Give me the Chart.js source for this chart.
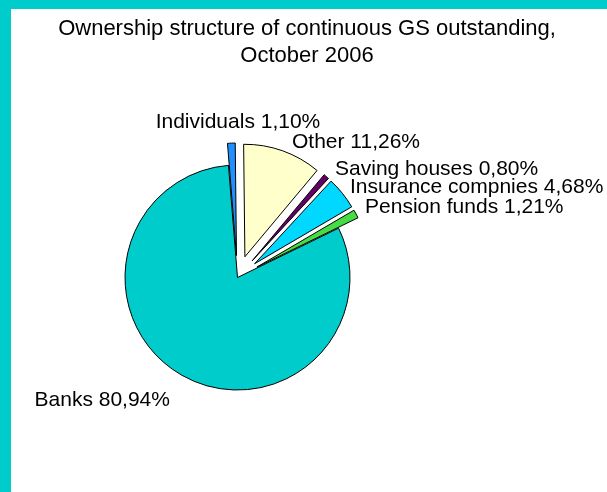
<!DOCTYPE html>
<html>
<head>
<meta charset="utf-8">
<script src="https://cdn.jsdelivr.net/npm/chart.js@4.4.1/dist/chart.umd.min.js"></script>
<style>
  html, body { margin: 0; padding: 0; }
  body { width: 607px; height: 492px; background: #00cccc; overflow: hidden; position: relative; }
  #frame { position: absolute; left: 11px; top: 9px; width: 596px; height: 483px; background: #fff; }
  canvas { display: block; }
</style>
</head>
<body>
<div id="frame"><canvas id="pie" width="596" height="483"></canvas></div>
<script>
const titleLines = ['Ownership structure of continuous GS outstanding,', 'October 2006'];
const holders = ['Individuals', 'Other', 'Saving houses', 'Insurance compnies', 'Pension funds', 'Banks'];
const shares = [1.10, 11.26, 0.80, 4.68, 1.21, 80.94];
const sliceColors = ['#2090ff', '#ffffcc', '#660066', '#00d8ff', '#44dd44', '#00cccc'];

// how far each slice is pulled out of the pie, px
const explode = [22, 22, 22, 22, 22, 0];
// label placement relative to the slice's outer edge
const labelShift = [[6.6, -15], [9.3, -2.8], [8.7, -1.5], [7.7, -0.2], [9, -0.9], [-11.8, 30.8]];
const labelAlign = ['center', 'left', 'left', 'left', 'left', 'right'];

const FONT = '21px "Liberation Sans", Arial, sans-serif';
const TITLE_FONT = '22px "Liberation Sans", Arial, sans-serif';

function formatShare(v) {
    return v.toFixed(2).replace('.', ',') + '%';
}

const explodePlugin = {
    id: 'explode',
    beforeDatasetDraw(chart, args) {
        const ctx = chart.ctx;
        args.meta.data.forEach((arc, i) => {
            const mid = (arc.startAngle + arc.endAngle) / 2;
            ctx.save();
            ctx.translate(Math.cos(mid) * explode[i], Math.sin(mid) * explode[i]);
            arc.draw(ctx);
            ctx.restore();
        });
        return false;
    }
};

const labelPlugin = {
    id: 'sliceLabels',
    afterDatasetsDraw(chart) {
        const ctx = chart.ctx;
        const meta = chart.getDatasetMeta(0);
        ctx.save();
        ctx.font = FONT;
        ctx.fillStyle = '#000';
        ctx.textBaseline = 'alphabetic';
        meta.data.forEach((arc, i) => {
            const mid = (arc.startAngle + arc.endAngle) / 2;
            const r = arc.outerRadius + explode[i];
            const x = arc.x + Math.cos(mid) * r + labelShift[i][0];
            const y = arc.y + Math.sin(mid) * r + labelShift[i][1];
            ctx.textAlign = labelAlign[i];
            ctx.fillText(holders[i] + ' ' + formatShare(shares[i]), x, y);
        });

        ctx.font = TITLE_FONT;
        ctx.textAlign = 'center';
        titleLines.forEach((line, k) => {
            ctx.fillText(line, 296, 26 + k * 27);
        });
        ctx.restore();
    }
};

new Chart(document.getElementById('pie').getContext('2d'), {
    type: 'pie',
    data: {
        labels: holders,
        datasets: [{
            data: shares,
            backgroundColor: sliceColors,
            borderColor: '#000',
            borderWidth: 1,
            radius: 112.5,
            rotation: -4.6
        }]
    },
    options: {
        responsive: false,
        animation: false,
        layout: {
            padding: {top: 60, bottom: 6, left: 0, right: 143}
        },
        plugins: {
            legend: {display: false},
            tooltip: {enabled: false}
        }
    },
    plugins: [explodePlugin, labelPlugin]
});
</script>
</body>
</html>
